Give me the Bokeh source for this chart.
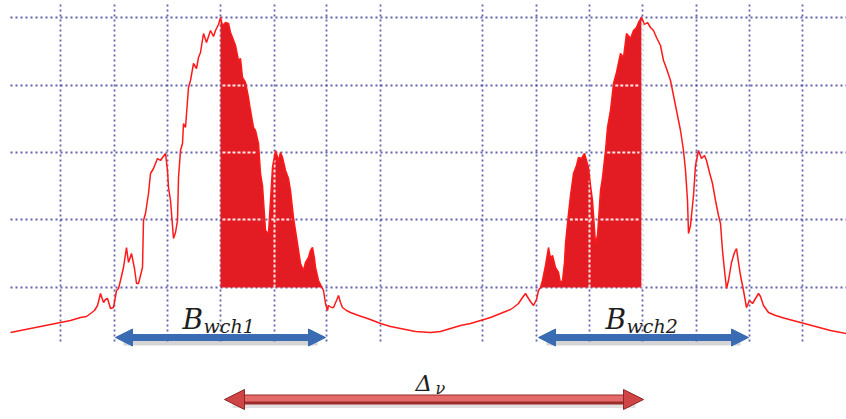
import numpy as np
from bokeh.plotting import figure
from bokeh.models import Range1d, Arrow, NormalHead, Label
from bokeh.embed import file_html
from bokeh.resources import INLINE

# ---------------- data (y = depth below top, axis flipped) ----
grid_freq = [60, 114, 167, 220, 274, 326, 380, 482, 536, 589, 642, 696, 749, 802]
grid_level = [17, 85, 152, 219, 287]

spec_freq = [10, 30, 45, 60, 70, 80, 86, 90, 94, 97, 100, 103, 105, 107, 110, 113, 116, 118, 120,
             123, 126, 128, 131, 134, 136, 138, 140, 142, 143, 145, 148, 150, 153, 157, 160, 162,
             165, 167, 168, 170, 173, 175, 177, 178, 180, 182, 183, 185, 188, 190, 193, 196, 198,
             200, 203, 206, 210, 213, 215, 218, 220, 222, 225, 228, 230, 232, 235, 238, 240, 242,
             245, 248, 250, 253, 255, 258, 260, 262, 263, 265, 268, 270, 272, 275, 278, 280, 282,
             285, 288, 290, 293, 295, 297, 300, 303, 305, 308, 310, 312, 314, 315, 318, 321, 323,
             325, 327, 328, 331, 333, 336, 338, 340, 342, 346, 350, 358, 367, 375, 380, 390, 400,
             415, 430,
             440, 450, 460, 470, 480, 490, 500, 505, 510, 513, 518, 522, 525, 528, 530, 533, 536,
             538, 540, 542, 545, 548, 550, 552, 555, 558, 560, 562, 564, 565, 568, 570, 573, 576,
             578, 581, 584, 586, 588, 590, 592, 595, 597, 598, 600, 602, 605, 607, 610, 613, 616,
             620, 623, 626, 630, 633, 636, 638, 641, 644, 647, 650, 653, 656, 660, 663, 666, 670,
             673, 676, 680, 683, 685, 687, 688, 690, 693, 695, 698, 701, 704, 706, 709, 712, 715,
             718, 720, 722, 724, 726, 728, 731, 734, 736, 738, 740, 743, 746, 749, 752, 755, 758,
             760, 763, 768, 775, 785, 800, 815, 830, 846]
spec_depth = [332, 328, 325, 322, 320, 317, 316, 313, 310, 305, 293, 302, 299, 298, 308, 307, 290, 288, 280,
              267, 247, 262, 253, 268, 283, 283, 275, 267, 220, 213, 193, 173, 168, 158, 160, 157,
              153, 170, 187, 200, 238, 232, 220, 177, 150, 143, 123, 127, 87, 80, 63, 68, 57,
              52, 33, 42, 30, 36, 30, 24, 17, 25, 22, 23, 32, 37, 45, 60, 58, 77,
              82, 97, 110, 127, 130, 143, 173, 185, 200, 230, 233, 200, 167, 150, 160, 152, 157,
              170, 178, 190, 217, 230, 243, 263, 270, 262, 257, 250, 247, 258, 267, 280, 286, 290,
              303, 310, 305, 307, 307, 300, 295, 302, 307, 310, 312, 315, 318, 321, 323, 326, 328,
              331, 332,
              331, 328, 325, 323, 320, 317, 313, 311, 309, 307, 303, 297, 293, 298, 301, 305, 299,
              290, 287, 280, 265, 247, 258, 255, 267, 272, 283, 280, 262, 243, 213, 195, 173, 165,
              157, 158, 153, 160, 167, 185, 200, 243, 235, 220, 190, 177, 150, 127, 110, 83, 72,
              53, 57, 33, 38, 30, 27, 22, 17, 24, 22, 27, 30, 37, 45, 60, 68, 80,
              95, 110, 130, 150, 170, 200, 233, 225, 195, 165, 150, 158, 155, 160, 172, 183, 200,
              215, 223, 250, 270, 288, 280, 262, 252, 248, 262, 275, 290, 307, 300, 303, 298, 293,
              296, 305, 312, 315, 318, 322, 326, 330, 333]

ch1_span = (220, 322)     # filled part of channel 1
ch2_span = (540, 641)     # filled part of channel 2
bw_ch1 = (115, 325)       # bandwidth arrow channel 1
bw_ch2 = (538, 748)       # bandwidth arrow channel 2
delta_nu = (224, 643)     # channel spacing arrow

# ---------------- figure ----------------
W, H = 846, 419
p = figure(width=W, height=H, x_range=Range1d(0, W), y_range=Range1d(H, 0),
           output_backend="svg", toolbar_location=None, min_border=0)
p.axis.visible = False
p.grid.visible = False
p.outline_line_color = None
p.background_fill_color = "white"
p.border_fill_color = "white"

GRID_C = "#4646a0"
base = grid_level[-1]

# dotted grid
p.segment(x0=grid_freq, y0=[4] * len(grid_freq), x1=grid_freq, y1=[342] * len(grid_freq),
          line_color=GRID_C, line_alpha=0.85, line_width=1.8, line_dash="2 3")
p.segment(x0=[10] * len(grid_level), y0=grid_level, x1=[W] * len(grid_level), y1=grid_level,
          line_color=GRID_C, line_alpha=0.85, line_width=1.8, line_dash="2 3")

fx = np.array(spec_freq, dtype=float)
fy = np.array(spec_depth, dtype=float)

FILL_C = "#e31b23"
white_x0, white_y0, white_x1, white_y1 = [], [], [], []


def spans_above(xs, ys, level):
    spans, start = [], None
    for i in range(len(xs)):
        above = ys[i] <= level
        if i == 0:
            if above:
                start = xs[0]
            continue
        prev = ys[i - 1] <= level
        if above != prev:
            t = (level - ys[i - 1]) / (ys[i] - ys[i - 1])
            xc = xs[i - 1] + t * (xs[i] - xs[i - 1])
            if above:
                start = xc
            else:
                spans.append((start, xc))
                start = None
    if start is not None:
        spans.append((start, xs[-1]))
    return spans


for (a, b) in (ch1_span, ch2_span):
    m = (fx >= a) & (fx <= b)
    xs, ys = fx[m], fy[m]
    p.varea(x=xs, y1=[base] * len(xs), y2=np.minimum(ys, base), fill_color=FILL_C)
    for lv in grid_level[:-1]:
        for s, e in spans_above(xs, ys, lv):
            if e - s > 3:
                white_x0.append(s + 2); white_x1.append(e - 2)
                white_y0.append(lv); white_y1.append(lv)
    for g in grid_freq:
        if a < g <= b + 1:
            top = float(np.interp(g, xs, ys))
            white_x0.append(g); white_x1.append(g)
            white_y0.append(base); white_y1.append(top + 4)

p.segment(x0=white_x0, y0=white_y0, x1=white_x1, y1=white_y1,
          line_color="white", line_width=2, line_dash="3 2", line_alpha=0.9)

# spectrum
p.line(fx, fy, line_color="#ff1a1a", line_width=1.5)

# blue bandwidth arrows
BLUE = "#3a6cb4"
for (a, b) in (bw_ch1, bw_ch2):
    p.segment(x0=[a + 8], y0=[341], x1=[b - 8], y1=[341], line_color="#888888",
              line_alpha=0.35, line_width=8)
    p.add_layout(Arrow(start=NormalHead(size=17, fill_color=BLUE, line_color=BLUE),
                       end=NormalHead(size=17, fill_color=BLUE, line_color=BLUE),
                       x_start=a, y_start=337, x_end=b, y_end=337,
                       line_color=BLUE, line_width=7))

# red channel-spacing arrow: body as glyphs (dark rim + light core), heads as annotation
a, b = delta_nu
p.segment(x0=[a + 8], y0=[403], x1=[b - 8], y1=[403], line_color="#999999",
          line_alpha=0.3, line_width=9)
p.segment(x0=[a + 10], y0=[399], x1=[b - 10], y1=[399], line_color="#9c2b2b", line_width=10)
p.segment(x0=[a + 10], y0=[398], x1=[b - 10], y1=[398], line_color="#e46a6a", line_width=6)
p.add_layout(Arrow(start=NormalHead(size=20, fill_color="#cf4545", line_color="#8e2424", line_width=1),
                   end=NormalHead(size=20, fill_color="#cf4545", line_color="#8e2424", line_width=1),
                   x_start=a, y_start=399, x_end=b, y_end=399,
                   line_alpha=0.0, line_width=1))

# labels
TXT = "#1e1e1e"
def lab(x, y, t, size):
    p.add_layout(Label(x=x, y=y, text=t, text_font="DejaVu Serif", text_font_style="italic",
                       text_font_size=size, text_color=TXT, text_baseline="alphabetic",
                       text_align="left"))

lab(182, 319, "B", "28px")
lab(203, 325, "wch1", "19px")
lab(605, 319, "B", "28px")
lab(626, 325, "wch2", "19px")
lab(415, 382, "Δ", "23px")
lab(435, 388, "ν", "16px")

open("out.html", "w").write(file_html(p, INLINE))
